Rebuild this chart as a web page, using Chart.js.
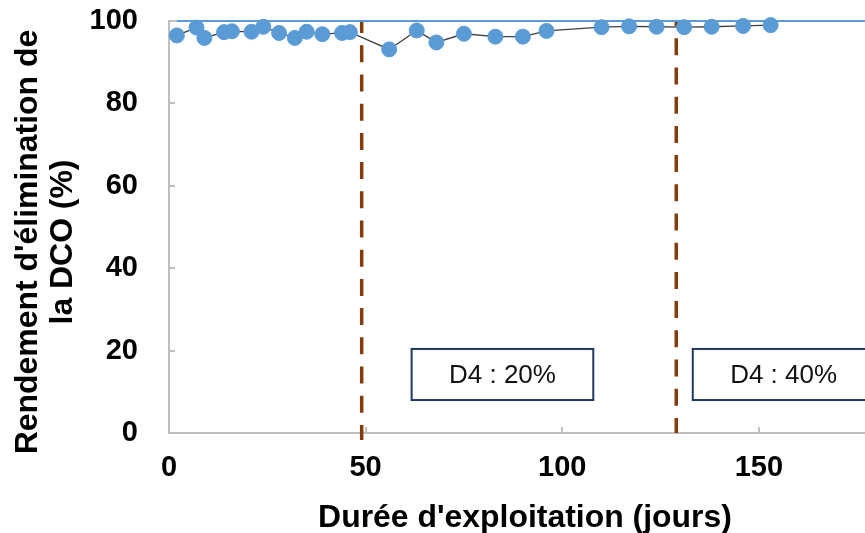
<!DOCTYPE html>
<html>
<head>
<meta charset="utf-8">
<script src="https://cdn.jsdelivr.net/npm/chart.js@4.4.1/dist/chart.umd.min.js"></script>
<style>
  html, body { margin: 0; padding: 0; background: #ffffff; }
  canvas { display: block; }
</style>
</head>
<body>
<canvas id="chart" width="865" height="533"></canvas>
<script>
// Operating time (days) and COD removal efficiency (%)
const days = [2, 7, 9, 14, 16, 21, 24, 28, 32, 35, 39, 44, 46, 56, 63, 68, 75, 83, 90, 96, 110, 117, 124, 131, 138, 146, 153];
const codRemoval = [96.5, 98.4, 95.9, 97.3, 97.5, 97.4, 98.6, 97.1, 95.9, 97.4, 96.8, 97.1, 97.3, 93.1, 97.7, 94.8, 96.9, 96.2, 96.2, 97.6, 98.5, 98.7, 98.6, 98.5, 98.6, 98.8, 99.0];

// Days where the D4 dose was changed, and the phase names
const phaseStarts = [49, 129];
const phaseNames = ['D4 : 20%', 'D4 : 40%'];

// Reference level (100 %) and axis ticks
const targetLevel = 100;
const xTicks = [0, 50, 100, 150];
const yTicks = [0, 20, 40, 60, 80, 100];

const xTitle = "Durée d'exploitation (jours)";
const yTitleLines = ["Rendement d'élimination de", "la DCO (%)"];

// ---- layout / style ----
const FONT = '"Liberation Sans", Arial, sans-serif';
const X_MAX = 177;
const AXIS_GREY = '#BFBFBF';
const boundaryDash = [{ offset: 4.9, below: -1.7 }, { offset: 11.9, below: 0 }];
// Phase label boxes, in axis units: [xStart, xEnd, yBottom, yTop]
const phaseBoxes = [[61.7, 107.9, 8.0, 20.4], [133.2, 179.4, 8.0, 20.4]];

function stretchedText(ctx, text, x, y, sx) {
  ctx.save();
  ctx.translate(x, y);
  ctx.scale(sx, 1);
  ctx.fillText(text, 0, 0);
  ctx.restore();
}

const decorations = {
  id: 'decorations',
  beforeDatasetsDraw(chart) {
    const { ctx, scales: { x, y } } = chart;
    ctx.save();
    ctx.strokeStyle = AXIS_GREY;
    ctx.lineWidth = 2;
    ctx.beginPath();
    xTicks.slice(1).forEach(v => {
      const px = Math.round(x.getPixelForValue(v));
      ctx.moveTo(px, y.bottom);
      ctx.lineTo(px, y.bottom - 6);
    });
    yTicks.forEach(v => {
      const py = Math.round(y.getPixelForValue(v));
      ctx.moveTo(x.left, py);
      ctx.lineTo(x.left + 6, py);
    });
    // short grey frame piece at the top-left corner
    ctx.moveTo(x.left, y.top);
    ctx.lineTo(x.getPixelForValue(days[0]), y.top);
    ctx.stroke();
    ctx.restore();
  },
  afterDatasetsDraw(chart) {
    const { ctx, scales: { x, y } } = chart;
    ctx.save();
    phaseBoxes.forEach((b, i) => {
      const x0 = x.getPixelForValue(b[0]);
      const x1 = x.getPixelForValue(b[1]);
      const y0 = y.getPixelForValue(b[3]);
      const y1 = y.getPixelForValue(b[2]);
      ctx.fillStyle = '#ffffff';
      ctx.fillRect(x0, y0, x1 - x0, y1 - y0);
      ctx.strokeStyle = '#203864';
      ctx.lineWidth = 2;
      ctx.strokeRect(x0, y0, x1 - x0, y1 - y0);
      ctx.fillStyle = '#111111';
      ctx.font = '26px ' + FONT;
      ctx.textAlign = 'center';
      ctx.textBaseline = 'middle';
      ctx.fillText(phaseNames[i], (x0 + x1) / 2, (y0 + y1) / 2 + 1);
    });
    ctx.restore();
  },
  afterDraw(chart) {
    const { ctx } = chart;
    ctx.save();
    ctx.fillStyle = '#000000';
    ctx.font = 'bold 31px ' + FONT;
    ctx.textAlign = 'center';
    ctx.textBaseline = 'alphabetic';
    stretchedText(ctx, xTitle, 525, 527, 1.03);
    ctx.translate(0, 242);
    ctx.rotate(-Math.PI / 2);
    stretchedText(ctx, yTitleLines[0], 0, 37, 1.03);
    stretchedText(ctx, yTitleLines[1], 0, 72, 1.03);
    ctx.restore();
  }
};

const datasets = [
  {
    label: 'Rendement',
    data: days.map((d, i) => ({ x: d, y: codRemoval[i] })),
    borderColor: '#404040',
    borderWidth: 1.3,
    pointBackgroundColor: '#5B9BD5',
    pointBorderColor: '#5B9BD5',
    pointBorderWidth: 1,
    pointRadius: 7.5,
    tension: 0,
    clip: false
  },
  {
    label: '100 %',
    data: [{ x: days[0], y: targetLevel }, { x: X_MAX, y: targetLevel }],
    borderColor: '#5B9BD5',
    borderWidth: 2.2,
    pointRadius: 0,
    clip: false
  }
];
phaseStarts.forEach((d, i) => {
  datasets.push({
    label: phaseNames[i],
    data: [{ x: d, y: targetLevel }, { x: d, y: boundaryDash[i].below }],
    borderColor: '#843C0C',
    borderWidth: 3.5,
    borderDash: [17, 12.2],
    borderDashOffset: boundaryDash[i].offset,
    borderCapStyle: 'butt',
    pointRadius: 0,
    clip: false
  });
});

// Tick labels sit beside the plot area, so no extra room is reserved for them
function noOverhang(s) {
  s.paddingTop = 0;
  s.paddingBottom = 0;
  s.paddingLeft = 0;
  s.paddingRight = 0;
}

new Chart(document.getElementById('chart'), {
  type: 'line',
  data: { datasets },
  plugins: [decorations],
  options: {
    responsive: false,
    animation: false,
    devicePixelRatio: 1,
    layout: { autoPadding: false, padding: { top: 21, right: 0, left: 0, bottom: 0 } },
    plugins: { legend: { display: false }, tooltip: { enabled: false } },
    scales: {
      x: {
        type: 'linear',
        min: 0,
        max: X_MAX,
        afterBuildTicks: s => { s.ticks = xTicks.map(v => ({ value: v })); },
        afterFit: s => { s.height = 100; noOverhang(s); },
        grid: { display: false, drawTicks: false },
        border: { display: true, color: AXIS_GREY, width: 2 },
        ticks: {
          padding: 18,
          maxRotation: 0,
          autoSkip: false,
          color: '#000000',
          font: { family: FONT, size: 29, weight: 'bold' }
        }
      },
      y: {
        type: 'linear',
        min: 0,
        max: 100,
        afterBuildTicks: s => { s.ticks = yTicks.map(v => ({ value: v })); },
        afterFit: s => { s.width = 169; noOverhang(s); },
        grid: { display: false, drawTicks: false },
        border: { display: true, color: AXIS_GREY, width: 2 },
        ticks: {
          padding: 31,
          color: '#000000',
          font: { family: FONT, size: 29, weight: 'bold' }
        }
      }
    }
  }
});
</script>
</body>
</html>
